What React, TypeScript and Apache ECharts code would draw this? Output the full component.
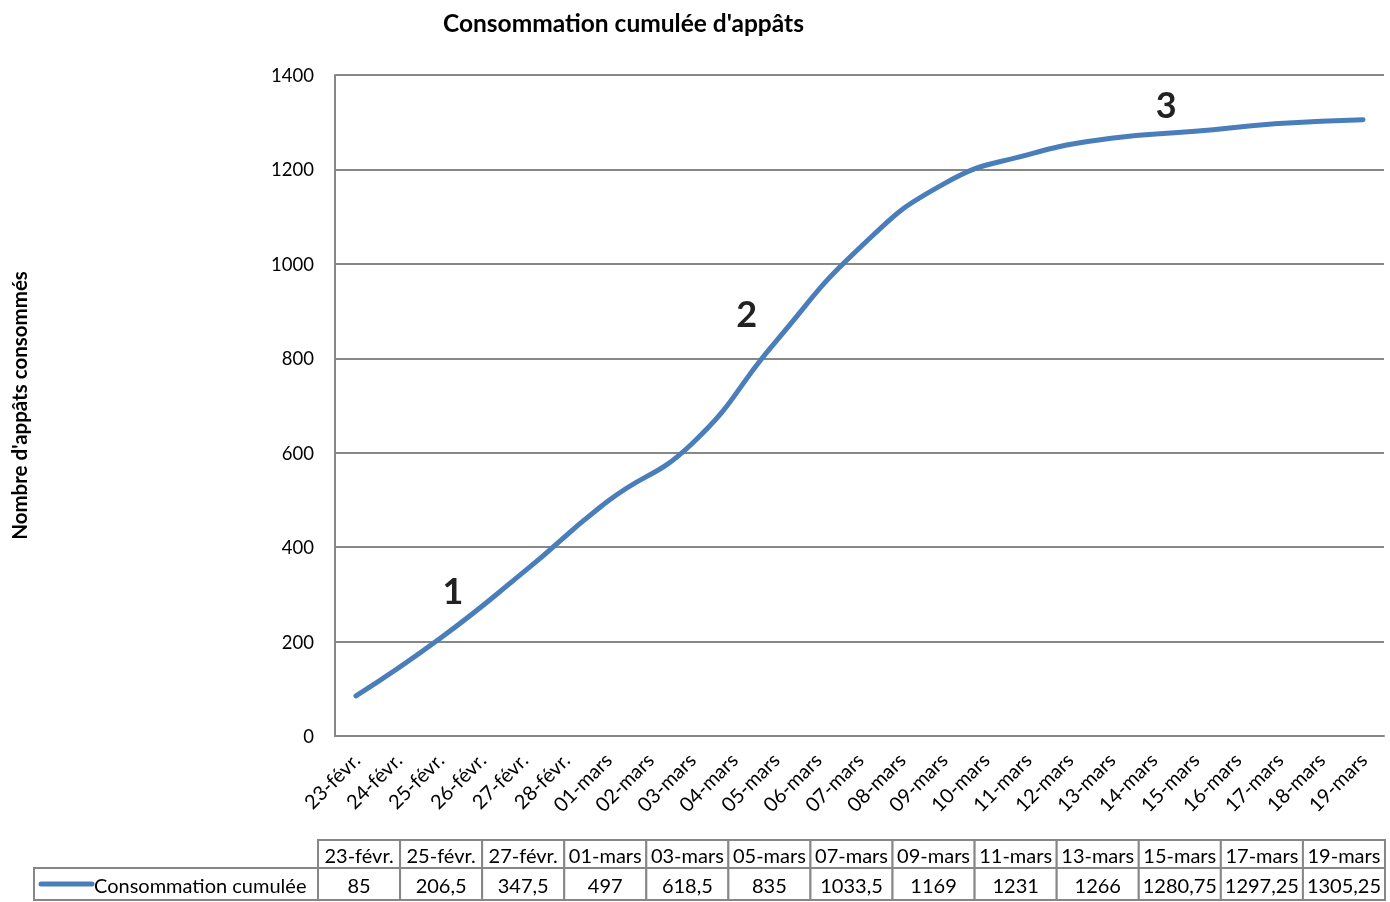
import React, { useEffect, useRef } from "react";
import * as echarts from "echarts";

const axisDates = [
  "23-févr.", "24-févr.", "25-févr.", "26-févr.", "27-févr.", "28-févr.",
  "01-mars", "02-mars", "03-mars", "04-mars", "05-mars", "06-mars", "07-mars",
  "08-mars", "09-mars", "10-mars", "11-mars", "12-mars", "13-mars", "14-mars",
  "15-mars", "16-mars", "17-mars", "18-mars", "19-mars",
];
const tableDates = [
  "23-févr.", "25-févr.", "27-févr.", "01-mars", "03-mars", "05-mars", "07-mars",
  "09-mars", "11-mars", "13-mars", "15-mars", "17-mars", "19-mars",
];
const cumulative = [85, 206.5, 347.5, 497, 618.5, 835, 1033.5, 1169, 1231, 1266, 1280.75, 1297.25, 1305.25];
const seriesName = "Consommation cumulée";
const annotations = [
  { label: "1", date: "25-févr.", y: 310 },
  { label: "2", date: "04-mars", y: 895 },
  { label: "3", date: "14-mars", y: 1338 },
];

const FONT = "Lato, 'Open Sans', sans-serif";
const LINE = "#4a7ebb";
const GRID = "#878787";

export default function App() {
  const ref = useRef<HTMLDivElement>(null);
  useEffect(() => {
    if (!ref.current) return;
    const chart = echarts.init(ref.current, undefined, { renderer: "svg" });
    const fmt = (v: number) => String(v).replace(".", ",");

    const tableLeft = 318;
    const tableRight = 1385;
    const colW = (tableRight - tableLeft) / tableDates.length;
    const hTop = 840, hBot = 868, dBot = 900;
    const graphics: any[] = [];
    graphics.push({ type: "rect", shape: { x: 34, y: hBot, width: tableLeft - 34, height: dBot - hBot }, style: { fill: "#fff", stroke: GRID, lineWidth: 2 } });
    graphics.push({ type: "line", shape: { x1: 41, y1: 884, x2: 92, y2: 884 }, style: { stroke: LINE, lineWidth: 5, lineCap: "round" } });
    graphics.push({ type: "text", x: 94, y: 885, style: { text: seriesName, font: `20px ${FONT}`, fill: "#000", verticalAlign: "middle", align: "left" } });
    tableDates.forEach((d, i) => {
      const x = tableLeft + i * colW;
      graphics.push({ type: "rect", shape: { x, y: hTop, width: colW, height: hBot - hTop }, style: { fill: "#fff", stroke: GRID, lineWidth: 2 } });
      graphics.push({ type: "rect", shape: { x, y: hBot, width: colW, height: dBot - hBot }, style: { fill: "#fff", stroke: GRID, lineWidth: 2 } });
      graphics.push({ type: "text", x: x + colW / 2, y: (hTop + hBot) / 2 + 1, style: { text: d, font: `20px ${FONT}`, fill: "#000", align: "center", verticalAlign: "middle" } });
      graphics.push({ type: "text", x: x + colW / 2, y: (hBot + dBot) / 2 + 1, style: { text: fmt(cumulative[i]), font: `20px ${FONT}`, fill: "#000", align: "center", verticalAlign: "middle" } });
    });

    chart.setOption({
      animation: false,
      title: {
        text: "Consommation cumulée d'appâts",
        left: 438,
        top: 5,
        textStyle: { fontFamily: FONT, fontWeight: "bold", fontSize: 24.5, color: "#000" },
      },
      grid: { left: 334, right: 6, top: 75, bottom: 166, containLabel: false },
      xAxis: {
        type: "category",
        data: axisDates,
        boundaryGap: true,
        axisLine: { lineStyle: { color: GRID, width: 2 } },
        axisTick: { show: false },
        axisLabel: { rotate: 45, fontFamily: FONT, fontSize: 20, color: "#000", interval: 0, margin: 20 },
      },
      yAxis: {
        type: "value",
        min: 0,
        max: 1400,
        interval: 200,
        name: "Nombre d'appâts consommés",
        nameLocation: "middle",
        nameRotate: 90,
        nameGap: 306,
        nameTextStyle: { fontFamily: FONT, fontWeight: "bold", fontSize: 20.5, color: "#000" },
        axisLine: { show: true, lineStyle: { color: GRID, width: 2 } },
        axisTick: { show: false },
        splitLine: { lineStyle: { color: GRID, width: 2 } },
        axisLabel: { fontFamily: FONT, fontSize: 18.5, color: "#000", margin: 21, formatter: (v: number) => String(v) },
      },
      series: [
        {
          name: seriesName,
          type: "line",
          smooth: 0.5,
          symbol: "none",
          lineStyle: { color: LINE, width: 5, cap: "round" },
          data: tableDates.map((d, i) => [d, cumulative[i]]),
          markPoint: {
            symbol: "circle",
            symbolSize: 0,
            label: { show: true, offset: [13, 0], fontFamily: FONT, fontWeight: "bold", fontSize: 36, color: "#222", formatter: (p: any) => p.name },
            data: annotations.map((a) => ({ name: a.label, coord: [a.date, a.y] })),
          },
        },
      ],
      graphic: graphics,
    });
    return () => chart.dispose();
  }, []);
  return <div ref={ref} style={{ position: "fixed", left: 0, top: 0, width: 1390, height: 902 }} />;
}
